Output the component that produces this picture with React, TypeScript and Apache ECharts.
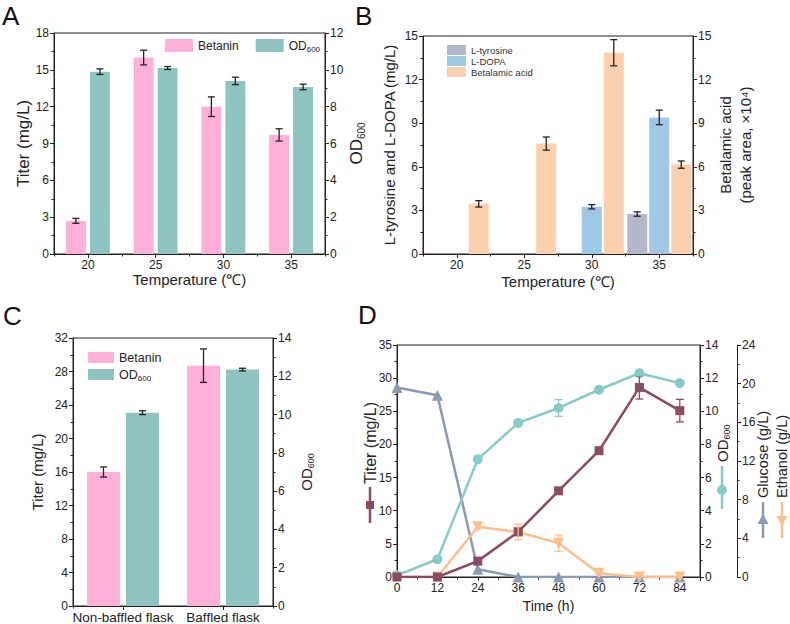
import React, { useEffect, useRef } from 'react';
import * as echarts from 'echarts';

const FONT = '"Liberation Sans", Arial, Helvetica, sans-serif';
const INK = '#222';

// ---------- Panel A: temperature ----------
const tempCats = ['20', '25', '30', '35'];
const betaninA = [2.7, 16.0, 12.0, 9.7];
const betaninAErr = [0.2, 0.6, 0.8, 0.5];
const odA = [9.9, 10.1, 9.4, 9.07];
const odAErr = [0.15, 0.08, 0.2, 0.15];

// ---------- Panel B: intermediates ----------
const tyrosineB = [null, null, null, 2.75];
const tyrosineBErr = [0, 0, 0, 0.15];
const dopaB = [null, null, 3.25, 9.4];
const dopaBErr = [0, 0, 0.15, 0.5];
const betalamicB = [3.45, 7.6, 13.85, 6.15];
const betalamicBErr = [0.22, 0.45, 0.9, 0.25];

// ---------- Panel C: flask ----------
const flaskCats = ['Non-baffled flask', 'Baffled flask'];
const betaninC = [16.0, 28.7];
const betaninCErr = [0.6, 2.0];
const odC = [10.1, 12.35];
const odCErr = [0.1, 0.07];

// ---------- Panel D: time course ----------
const timeH = [0, 12, 24, 36, 48, 60, 72, 84];
const titerD = [0, 0, 2.4, 6.8, 13.0, 19.05, 28.6, 25.1];
const titerDErr = [0, 0, 0.3, 0.4, 0.5, 0.5, 1.75, 1.7];
const odD = [0.1, 1.07, 7.1, 9.3, 10.2, 11.3, 12.3, 11.7];
const odDErr = [0, 0, 0.1, 0.15, 0.5, 0.15, 0.15, 0.1];
const glucoseD = [19.6, 18.8, 0.8, 0, 0, 0, 0, 0];
const ethanolD = [0, 0, 5.2, 4.65, 3.5, 0.4, 0, 0];
const ethanolDErr = [0, 0, 0.25, 0.8, 0.85, 0.1, 0, 0];

const C_PINK = '#FEB0D9';
const C_TEAL = '#8EC3C1';
const C_TYR = '#B2B7CB';
const C_DOPA = '#9FC8E5';
const C_BETAL = '#FBD0AF';
const C_TITER = '#8C4A64';
const C_OD = '#86CBC7';
const C_GLU = '#8B98B6';
const C_ETH = '#FDBF8C';

const subRich = (big: number, small: number) => ({
  a: { fontSize: big, fontFamily: FONT, color: INK, lineHeight: big + 3 },
  b: { fontSize: small, fontFamily: FONT, color: INK, lineHeight: small, verticalAlign: 'bottom' },
});

function errRender(offset: number, color: string, capW: number, lw = 1.3) {
  return (params: any, api: any) => {
    const x = api.value(0);
    const v = api.value(1);
    const e = api.value(2);
    if (v == null || isNaN(v) || !e) return null;
    const hi = api.coord([x, v + e]);
    const lo = api.coord([x, v - e]);
    const cx = hi[0] + offset;
    const st = { stroke: color, lineWidth: lw };
    return {
      type: 'group',
      children: [
        { type: 'line', shape: { x1: cx, y1: hi[1], x2: cx, y2: lo[1] }, style: st },
        { type: 'line', shape: { x1: cx - capW, y1: hi[1], x2: cx + capW, y2: hi[1] }, style: st },
        { type: 'line', shape: { x1: cx - capW, y1: lo[1], x2: cx + capW, y2: lo[1] }, style: st },
      ],
    };
  };
}

function errSeries(xi: number, yi: number, xs: any[], vals: any[], errs: number[], offset: number, color: string, capW = 3.5, lw = 1.3) {
  const data: any[] = [];
  vals.forEach((v, i) => {
    if (v != null && errs[i]) data.push([xs[i], v, errs[i]]);
  });
  return {
    type: 'custom',
    xAxisIndex: xi,
    yAxisIndex: yi,
    data,
    encode: { x: 0, y: 1 },
    renderItem: errRender(offset, color, capW, lw),
    z: 10,
    silent: true,
  };
}

const lineStyleAx = { color: INK, width: 1 };
const labelBase = { color: INK, fontSize: 12, fontFamily: FONT, margin: 5 };

function valAxis(grid: number, min: number, max: number, interval: number, position: string, extra: any = {}) {
  return {
    type: 'value',
    gridIndex: grid,
    min,
    max,
    interval,
    position,
    axisLine: { show: true, lineStyle: lineStyleAx },
    axisTick: { show: true, length: 4, lineStyle: lineStyleAx },
    minorTick: { show: true, splitNumber: 2, length: 2.5, lineStyle: lineStyleAx },
    minorSplitLine: { show: false },
    splitLine: { show: false },
    axisLabel: { ...labelBase },
    nameLocation: 'middle',
    nameRotate: 90,
    ...extra,
  };
}

function catAxis(grid: number, data: string[], extra: any = {}) {
  return {
    type: 'category',
    gridIndex: grid,
    data,
    position: 'bottom',
    axisLine: { show: true, lineStyle: lineStyleAx },
    axisTick: { show: true, alignWithLabel: true, length: 4, lineStyle: lineStyleAx },
    axisLabel: { ...labelBase, interval: 0 },
    splitLine: { show: false },
    nameLocation: 'middle',
    ...extra,
  };
}

function minorCatAxis(grid: number, data: string[]) {
  return {
    type: 'category',
    gridIndex: grid,
    data,
    position: 'bottom',
    axisLine: { show: false },
    axisTick: { show: true, length: 2.5, lineStyle: lineStyleAx },
    axisLabel: { show: false },
    splitLine: { show: false },
  };
}

const nameStyle = (size: number) => ({ fontSize: size, fontFamily: FONT, color: INK });

function buildOption() {
  const idxA = tempCats.map((_, i) => i);
  const idxC = flaskCats.map((_, i) => i);
  const pair = (vals: number[]) => timeH.map((t, i) => [t, vals[i]]);

  const grid = [
    { left: 54, top: 33, width: 271, height: 221, show: true, borderColor: INK, borderWidth: 1 },
    { left: 423, top: 36, width: 270, height: 218, show: true, borderColor: INK, borderWidth: 1 },
    { left: 73, top: 338, width: 200, height: 269, show: true, borderColor: INK, borderWidth: 1 },
    { left: 397, top: 345, width: 303, height: 232, show: true, borderColor: INK, borderWidth: 1 },
  ];

  const xAxis = [
    catAxis(0, tempCats, { name: 'Temperature (℃)', nameGap: 17, nameTextStyle: nameStyle(15) }),
    minorCatAxis(0, tempCats),
    catAxis(1, tempCats, { name: 'Temperature (℃)', nameGap: 20, nameTextStyle: nameStyle(15) }),
    minorCatAxis(1, tempCats),
    catAxis(2, flaskCats, { axisLabel: { ...labelBase, fontSize: 13.5, margin: 4, interval: 0 } }),
    minorCatAxis(2, flaskCats),
    {
      type: 'value',
      gridIndex: 3,
      min: 0,
      max: 90,
      interval: 12,
      position: 'bottom',
      axisLine: { show: true, lineStyle: lineStyleAx },
      axisTick: { show: true, length: 4, lineStyle: lineStyleAx },
      minorTick: { show: true, splitNumber: 2, length: 2.5, lineStyle: lineStyleAx },
      splitLine: { show: false },
      axisLabel: { ...labelBase, formatter: (v: number) => (v > 84 ? '' : String(v)) },
      name: 'Time (h)',
      nameLocation: 'middle',
      nameGap: 22,
      nameTextStyle: nameStyle(14),
    },
  ];

  const yAxis = [
    valAxis(0, 0, 18, 3, 'left', { name: 'Titer (mg/L)', nameGap: 22, nameTextStyle: nameStyle(17) }),
    valAxis(0, 0, 12, 2, 'right', {
      name: '{a|OD}{b|600}',
      nameGap: 21,
      nameTextStyle: { ...nameStyle(17), rich: subRich(17, 10) },
    }),
    valAxis(1, 0, 15, 3, 'left', { name: 'L-tyrosine and L-DOPA (mg/L)', nameGap: 26, nameTextStyle: nameStyle(15) }),
    valAxis(1, 0, 15, 3, 'right', {
      name: 'Betalamic acid\n(peak area, ×10⁴)',
      nameGap: 20,
      nameTextStyle: { ...nameStyle(15), lineHeight: 20 },
    }),
    valAxis(2, 0, 32, 4, 'left', { name: 'Titer (mg/L)', nameGap: 28, nameTextStyle: nameStyle(15) }),
    valAxis(2, 0, 14, 2, 'right', {
      name: '{a|OD}{b|600}',
      nameGap: 24,
      nameTextStyle: { ...nameStyle(15), rich: subRich(15, 9) },
    }),
    valAxis(3, 0, 35, 5, 'left'),
    valAxis(3, 0, 14, 2, 'right'),
    valAxis(3, 0, 24, 4, 'right', { offset: 37 }),
  ];

  const series: any[] = [
    // A
    { type: 'bar', name: 'Betanin', xAxisIndex: 0, yAxisIndex: 0, data: betaninA, barWidth: 20, barGap: '20%', itemStyle: { color: C_PINK } },
    { type: 'bar', name: 'OD600', xAxisIndex: 0, yAxisIndex: 1, data: odA, barWidth: 20, barGap: '20%', itemStyle: { color: C_TEAL } },
    errSeries(0, 0, idxA, betaninA, betaninAErr, -12, INK),
    errSeries(0, 1, idxA, odA, odAErr, 12, INK),
    // B
    { type: 'bar', name: 'L-tyrosine', xAxisIndex: 2, yAxisIndex: 2, data: tyrosineB, barWidth: 20, barGap: '10%', itemStyle: { color: C_TYR } },
    { type: 'bar', name: 'L-DOPA', xAxisIndex: 2, yAxisIndex: 2, data: dopaB, barWidth: 20, barGap: '10%', itemStyle: { color: C_DOPA } },
    { type: 'bar', name: 'Betalamic acid', xAxisIndex: 2, yAxisIndex: 3, data: betalamicB, barWidth: 20, barGap: '10%', itemStyle: { color: C_BETAL } },
    errSeries(2, 2, idxA, tyrosineB, tyrosineBErr, -22, INK),
    errSeries(2, 2, idxA, dopaB, dopaBErr, 0, INK),
    errSeries(2, 3, idxA, betalamicB, betalamicBErr, 22, INK),
    // C
    { type: 'bar', name: 'Betanin', xAxisIndex: 4, yAxisIndex: 4, data: betaninC, barWidth: 33, barGap: '18%', itemStyle: { color: C_PINK } },
    { type: 'bar', name: 'OD600', xAxisIndex: 4, yAxisIndex: 5, data: odC, barWidth: 33, barGap: '18%', itemStyle: { color: C_TEAL } },
    errSeries(4, 4, idxC, betaninC, betaninCErr, -19.5, INK),
    errSeries(4, 5, idxC, odC, odCErr, 19.5, INK),
    // D
    {
      type: 'line', name: 'Glucose', xAxisIndex: 6, yAxisIndex: 8, data: pair(glucoseD),
      symbol: 'triangle', symbolSize: 11, lineStyle: { color: C_GLU, width: 2.5 }, itemStyle: { color: C_GLU }, z: 3,
    },
    {
      type: 'line', name: 'Ethanol', xAxisIndex: 6, yAxisIndex: 8, data: pair(ethanolD),
      symbol: 'triangle', symbolRotate: 180, symbolSize: 11, lineStyle: { color: C_ETH, width: 2.5 }, itemStyle: { color: C_ETH }, z: 3,
    },
    {
      type: 'line', name: 'OD600 time', xAxisIndex: 6, yAxisIndex: 7, data: pair(odD),
      symbol: 'circle', symbolSize: 10, lineStyle: { color: C_OD, width: 2.5 }, itemStyle: { color: C_OD }, z: 4,
    },
    {
      type: 'line', name: 'Titer time', xAxisIndex: 6, yAxisIndex: 6, data: pair(titerD),
      symbol: 'rect', symbolSize: 9, lineStyle: { color: C_TITER, width: 2.5 }, itemStyle: { color: C_TITER }, z: 5,
    },
    errSeries(6, 6, timeH, titerD, titerDErr, 0, C_TITER, 4, 1.3),
    errSeries(6, 7, timeH, odD, odDErr, 0, C_OD, 4, 1.3),
    errSeries(6, 8, timeH, ethanolD, ethanolDErr, 0, C_ETH, 4, 1.3),
  ];

  const legend = [
    {
      data: ['Betanin', 'OD600'], left: 165, top: 39, orient: 'horizontal', padding: 0,
      itemWidth: 28, itemHeight: 13, itemGap: 17, icon: 'rect', selectedMode: false,
      formatter: (n: string) => (n === 'OD600' ? '{a|OD}{b|600}' : n),
      textStyle: { fontSize: 12, fontFamily: FONT, color: INK, rich: subRich(12, 8) },
    },
    {
      data: ['L-tyrosine', 'L-DOPA', 'Betalamic acid'], left: 447, top: 45, orient: 'vertical', padding: 0,
      itemWidth: 19, itemHeight: 10, itemGap: 1, icon: 'rect', selectedMode: false,
      textStyle: { fontSize: 9.5, fontFamily: FONT, color: '#333' },
    },
    {
      data: ['Betanin', 'OD600'], left: 88, top: 351, orient: 'vertical', padding: 0,
      itemWidth: 26, itemHeight: 11, itemGap: 4, icon: 'rect', selectedMode: false,
      formatter: (n: string) => (n === 'OD600' ? '{a|OD}{b|600}' : n),
      textStyle: { fontSize: 12.5, fontFamily: FONT, color: INK, rich: subRich(12.5, 8) },
    },
  ];

  const vText = (x: number, y: number, text: string, size: number, rich?: any) => ({
    type: 'text',
    x,
    y,
    rotation: Math.PI / 2,
    style: { text, align: 'left', verticalAlign: 'middle', fontSize: size, fontFamily: FONT, fill: INK, rich },
  });
  const vLine = (x: number, y1: number, y2: number, color: string) => ({
    type: 'line', shape: { x1: x, y1, x2: x, y2 }, style: { stroke: color, lineWidth: 2.5 },
  });
  const letter = (x: number, y: number, t: string) => ({
    type: 'text', x, y, style: { text: t, fontSize: 26, fontFamily: FONT, fill: '#111', align: 'left', verticalAlign: 'top' },
  });

  const graphic = [
    letter(2, 3, 'A'),
    letter(355, 3, 'B'),
    letter(3, 303, 'C'),
    letter(358, 302, 'D'),
    // D titer label
    vText(370, 484, 'Titer (mg/L)', 16),
    vLine(370, 487, 523, C_TITER),
    { type: 'rect', shape: { x: 366, y: 501, width: 8, height: 8 }, style: { fill: C_TITER } },
    // D OD label
    vText(722, 462, '{a|OD}{b|600}', 15, subRich(15, 9)),
    vLine(722, 466, 509, C_OD),
    { type: 'circle', shape: { cx: 722, cy: 490, r: 5 }, style: { fill: C_OD } },
    // Glucose
    vText(763, 498, 'Glucose (g/L)', 14.5),
    vLine(763, 502, 538, C_GLU),
    { type: 'polygon', shape: { points: [[763, 514], [757.5, 524], [768.5, 524]] }, style: { fill: C_GLU } },
    // Ethanol
    vText(782, 498, 'Ethanol (g/L)', 14.5),
    vLine(782, 502, 538, C_ETH),
    { type: 'polygon', shape: { points: [[782, 526], [776.5, 516], [787.5, 516]] }, style: { fill: C_ETH } },
  ];

  return {
    animation: false,
    backgroundColor: '#fff',
    textStyle: { fontFamily: FONT },
    grid,
    xAxis,
    yAxis,
    legend,
    series,
    graphic,
  };
}

export default function App() {
  const ref = useRef<HTMLDivElement>(null);
  useEffect(() => {
    if (!ref.current) return;
    const chart = echarts.init(ref.current, undefined, { renderer: 'svg' });
    chart.setOption(buildOption() as any);
    return () => chart.dispose();
  }, []);
  return <div ref={ref} style={{ position: 'fixed', left: 0, top: 0, width: 790, height: 624 }} />;
}
